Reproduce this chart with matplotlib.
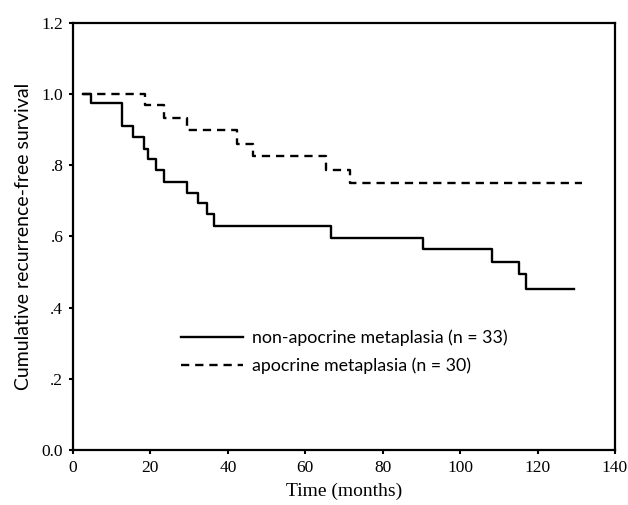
import matplotlib
matplotlib.use("Agg")
import matplotlib.pyplot as plt

# Kaplan-Meier steps (months, survival)
non_apo_time = [2.5, 4.7, 12.6, 15.4, 18.3, 19.5, 21.4, 23.6, 29.5, 32.4, 34.5, 36.5,
                66.6, 90.4, 108.2, 115.2, 117.1, 129.5]
non_apo_surv = [1.0, 0.974, 0.911, 0.880, 0.847, 0.817, 0.787, 0.754, 0.721, 0.693,
                0.662, 0.629, 0.597, 0.565, 0.528, 0.494, 0.451, 0.451]

apo_time = [2.5, 18.6, 23.6, 29.5, 42.3, 46.4, 65.4, 71.6, 131.4]
apo_surv = [1.0, 0.969, 0.933, 0.899, 0.860, 0.827, 0.788, 0.750, 0.750]

labels = ["non-apocrine metaplasia (n = 33)", "apocrine metaplasia (n = 30)"]
xticks = [0, 20, 40, 60, 80, 100, 120, 140]
yticks = [0.0, 0.2, 0.4, 0.6, 0.8, 1.0, 1.2]
yticklabels = ["0.0", ".2", ".4", ".6", ".8", "1.0", "1.2"]

serif = ["Liberation Serif", "DejaVu Serif"]
sans = ["Lato", "DejaVu Sans"]

fig = plt.figure(figsize=(6.28, 5.05), dpi=100)
ax = fig.add_axes([0.1162, 0.109, 0.863, 0.8455])

ax.step(non_apo_time, non_apo_surv, where="post", color="black", lw=1.7,
        label=labels[0])
ax.step(apo_time, apo_surv, where="post", color="black", lw=1.7,
        linestyle=(0, (3.5, 2.5)), label=labels[1])

ax.set_xlim(0, 140)
ax.set_ylim(0, 1.2)
ax.set_xticks(xticks)
ax.set_xticklabels([str(t) for t in xticks], fontfamily=serif, fontsize=12.5)
ax.set_yticks(yticks)
ax.set_yticklabels(yticklabels, fontfamily=serif, fontsize=12.5)
ax.tick_params(direction="out", length=3, width=1.5, pad=4)
for sp in ax.spines.values():
    sp.set_linewidth(1.6)

ax.set_xlabel("Time (months)", fontfamily=serif, fontsize=14, labelpad=5)
ax.set_ylabel("Cumulative recurrence-free survival", fontfamily=sans, fontsize=14,
              labelpad=7)

ax.legend(loc="upper left", bbox_to_anchor=(0.17, 0.32), frameon=False,
          prop={"family": sans, "size": 12.8}, handlelength=3.5, handletextpad=0.5,
          labelspacing=0.65)

fig.savefig("out.png", dpi=100)
